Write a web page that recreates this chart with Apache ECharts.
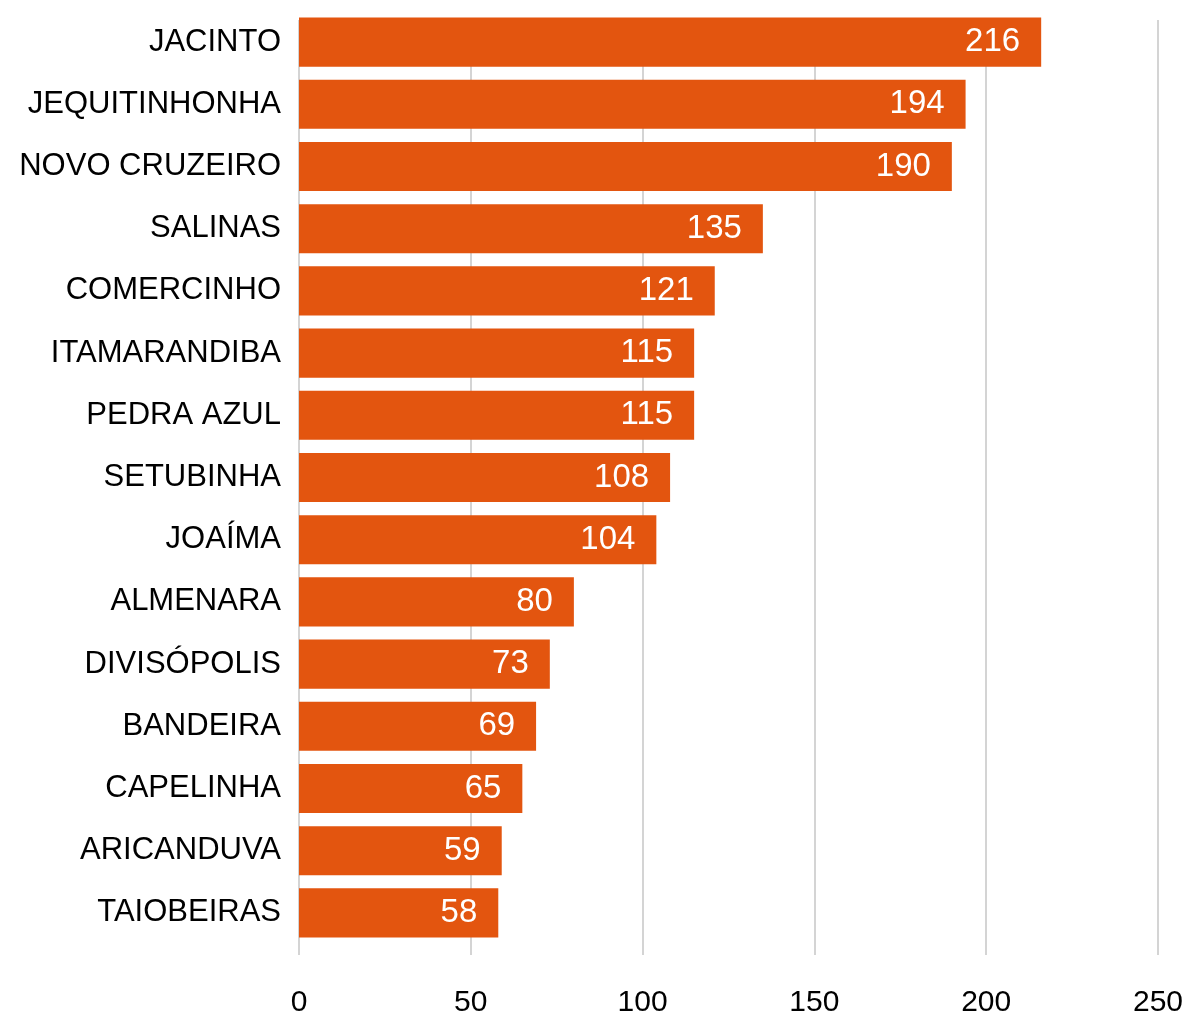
<!DOCTYPE html>
<html>
<head>
<meta charset="utf-8">
<style>
  html, body { margin: 0; padding: 0; background: #fff; }
  #chart { width: 1192px; height: 1018px; }
</style>
<script src="https://cdn.jsdelivr.net/npm/echarts@6/dist/echarts.min.js"></script>
</head>
<body>
<div id="chart"></div>
<script>
// Municipalities, top to bottom
const categories = [
  'JACINTO', 'JEQUITINHONHA', 'NOVO CRUZEIRO', 'SALINAS', 'COMERCINHO',
  'ITAMARANDIBA', 'PEDRA AZUL', 'SETUBINHA', 'JOAÍMA', 'ALMENARA',
  'DIVISÓPOLIS', 'BANDEIRA', 'CAPELINHA', 'ARICANDUVA', 'TAIOBEIRAS'
];
const values = [216, 194, 190, 135, 121, 115, 115, 108, 104, 80, 73, 69, 65, 59, 58];
const xTicks = [0, 50, 100, 150, 200, 250];

const FONT = '"Liberation Sans", Arial, Helvetica, sans-serif';
const chart = echarts.init(document.getElementById('chart'));

chart.setOption({
  animation: false,
  backgroundColor: '#ffffff',
  grid: [
    // grid 0: vertical gridlines and the value axis labels
    { left: 299, right: 34, top: 20, bottom: 63, containLabel: false },
    // grid 1: the bars
    { left: 299, right: 34, top: 11, bottom: 74, containLabel: false }
  ],
  xAxis: [
    {
      gridIndex: 0,
      type: 'value',
      min: xTicks[0],
      max: xTicks[xTicks.length - 1],
      interval: 50,
      axisLine: { show: false },
      axisTick: { show: false },
      splitLine: { show: true, lineStyle: { color: '#d4d4d4', width: 2 } },
      axisLabel: {
        margin: 33,
        color: '#000',
        fontFamily: FONT,
        fontSize: 30
      }
    },
    {
      gridIndex: 1,
      type: 'value',
      min: xTicks[0],
      max: xTicks[xTicks.length - 1],
      show: false
    }
  ],
  yAxis: [
    { gridIndex: 0, type: 'value', show: false },
    {
      gridIndex: 1,
      type: 'category',
      data: categories,
      inverse: true,
      axisLine: { show: false },
      axisTick: { show: false },
      splitLine: { show: false },
      axisLabel: {
        margin: 18,
        color: '#000',
        fontFamily: FONT,
        fontSize: 31,
        padding: [4, 0, 0, 0]
      }
    }
  ],
  series: [
    {
      type: 'bar',
      xAxisIndex: 1,
      yAxisIndex: 1,
      data: values,
      barCategoryGap: '21%',
      itemStyle: { color: '#E3550F' },
      label: {
        show: true,
        position: 'insideRight',
        distance: 21,
        color: '#fff',
        fontFamily: FONT,
        fontSize: 33,
        padding: [2, 0, 0, 0]
      }
    }
  ]
});
</script>
</body>
</html>
